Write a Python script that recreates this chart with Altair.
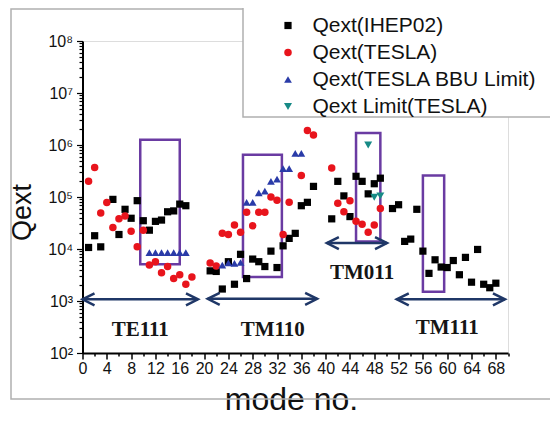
import altair as alt
import pandas as pd

# ---------------- data ----------------
series_names = ["Qext(IHEP02)", "Qext(TESLA)", "Qext(TESLA BBU Limit)", "Qext Limit(TESLA)"]

ihep_mode = [1, 2, 3, 5, 6, 7, 8, 9, 10, 11, 12, 13, 14, 15, 16, 17,
             21, 22, 23, 24, 25, 26, 27, 28, 29, 30, 31, 32, 33, 34, 35, 36, 37, 38,
             41, 42, 43, 44, 45, 46, 47, 48, 49,
             51, 52, 53, 54, 55, 56, 57, 58, 59, 60, 61, 62, 63, 64, 65, 66, 67, 68]
ihep_q = [1.07e4, 1.8e4, 1.1e4, 9.0e4, 1.9e4, 5.8e4, 3.9e4, 8.5e4, 3.5e4, 2.3e4, 3.4e4, 3.6e4, 5.2e4, 5.4e4, 7.3e4, 6.8e4,
          3.8e3, 3.7e3, 1.7e3, 5.7e3, 2.1e3, 7.9e3, 2.7e3, 6.4e3, 5.7e3, 4.6e3, 9.1e3, 4.4e3, 1.15e4, 1.6e4, 2.0e4, 6.8e4, 7.9e4, 1.6e5,
          3.8e4, 2.0e5, 1.05e5, 4.2e4, 2.5e5, 2.0e5, 1.15e5, 1.8e5, 2.3e5,
          6.0e4, 7.1e4, 1.4e4, 1.55e4, 5.8e4, 9.1e3, 3.4e3, 6.2e3, 4.5e3, 4.4e3, 6.0e3, 3.2e3, 6.9e3, 2.3e3, 9.8e3, 2.1e3, 1.8e3, 2.2e3]

tesla_mode = [1, 2, 3, 4, 5, 6, 7, 8, 9, 10, 11, 12, 13, 14, 15, 16, 17, 18,
              21, 22, 23, 24, 25, 26, 27, 28, 29, 30, 31, 32, 33, 34, 36, 37, 38,
              41, 42, 43, 44, 45, 46, 47, 48, 49]
tesla_q = [2.0e5, 3.7e5, 4.9e4, 7.8e4, 2.6e4, 3.8e4, 4.3e4, 2.2e4, 1.1e4, 2.3e4, 4.9e3, 5.7e3, 3.5e3, 4.6e3, 2.7e3, 3.2e3, 2.1e3, 2.9e3,
           5.4e3, 4.7e3, 2.0e4, 1.9e4, 2.9e4, 2.1e4, 5.1e4, 2.8e4, 5.1e4, 5.1e4, 1.0e5, 8.7e4, 1.9e4, 7.9e4, 2.6e5, 1.9e6, 1.55e6,
           3.6e5, 7.6e4, 5.2e4, 8.5e4, 3.4e4, 3.0e4, 2.1e4, 2.9e4, 6.0e4]

bbu_mode = [11, 12, 13, 14, 15, 16, 17,
            23, 24, 25, 26, 27, 28, 29, 30, 31, 32, 33, 34, 35, 36]
bbu_q = [8.5e3, 8.5e3, 8.5e3, 8.5e3, 8.5e3, 8.5e3, 8.5e3,
         4.9e3, 5.4e3, 5.3e3, 5.5e3, 7.9e4, 7.9e4, 1.2e5, 1.3e5, 2.0e5, 2.2e5, 3.5e5, 3.5e5, 6.9e5, 6.9e5]

limit_mode = [47, 48, 49]
limit_q = [1.0e6, 9.9e4, 1.05e5]

# purple boxes
box_x1 = [9.5, 26.4, 45.0, 56.0]
box_x2 = [16.0, 32.8, 49.0, 59.5]
box_ylo = [5.1e3, 2.9e3, 1.4e4, 1.5e3]
box_yhi = [1.26e6, 6.5e5, 1.7e6, 2.6e5]

# double arrows
arrow_x1 = [0.0, 20.6, 40.2, 51.7]
arrow_x2 = [19.0, 38.6, 50.1, 69.5]
arrow_y = [1.08e3, 1.1e3, 1.3e4, 1.08e3]

# mode labels
label_text = ["TE111", "TM110", "TM011", "TM111"]
label_x = [9.5, 31.3, 46.0, 60.0]
label_y = [277, 277, 3.5e3, 300]

x_tick_values = list(range(0, 71, 2))
y_tick_values = [m * 10 ** e for e in range(2, 8) for m in range(1, 10)] + [10 ** 8]

# ---------------- tables ----------------
rows = []
for name, xs_, qs_ in zip(series_names, [ihep_mode, tesla_mode, bbu_mode, limit_mode],
                          [ihep_q, tesla_q, bbu_q, limit_q]):
    for xv, qv in zip(xs_, qs_):
        rows.append({"mode": xv, "Qext": qv, "series": name})
df = pd.DataFrame(rows)

boxes = pd.DataFrame({"x1": box_x1, "x2": box_x2, "y1": box_ylo, "y2": box_yhi})
arrows = pd.DataFrame({"x1": arrow_x1, "x2": arrow_x2, "y": arrow_y})
labels = pd.DataFrame({"t": label_text, "x": label_x, "y": label_y})
one = pd.DataFrame({"a": [0]})

xs = alt.Scale(domain=[0, 70], nice=False, zero=False)
ys = alt.Scale(type="log", domain=[1e2, 1e8], nice=False)

NAVY = "#1f3767"
PURPLE = "#6a3ba2"

is_decade = "abs(log(datum.value)/LN10 - round(log(datum.value)/LN10)) < 0.001"
sup = "['\u2070','\u00b9','\u00b2','\u00b3','\u2074','\u2075','\u2076','\u2077','\u2078','\u2079']"

x_axis = alt.Axis(
    values=x_tick_values, title="mode no.", grid=False,
    labelExpr="(datum.value % 4 == 0 && datum.value <= 68) ? datum.label : ''",
    tickSize={"condition": {"test": "datum.value % 4 == 0", "value": 6}, "value": 3},
    labelFont="Liberation Sans", labelFontSize=16, labelColor="#111", labelPadding=1,
    labelFlush=False, labelOverlap=False,
    domainColor="#000", domainWidth=2, tickColor="#000", tickWidth=1.5,
    titleFont="Liberation Sans", titleFontSize=32, titleFontWeight="normal", titleColor="#111",
    titleX=208.5, titleY=56, titleAlign="center", titleBaseline="alphabetic",
)
y_axis = alt.Axis(
    values=y_tick_values, title="Qext", grid=False,
    labelExpr=f"{is_decade} ? '10' + {sup}[round(log(datum.value)/LN10)] : ''",
    tickSize={"condition": {"test": is_decade, "value": 6}, "value": 3.5},
    labelFont="Liberation Sans", labelFontSize=16, labelColor="#111", labelPadding=4,
    labelFlush=False, labelOverlap=False,
    domainColor="#000", domainWidth=2, tickColor="#000", tickWidth=1.2,
    titleFont="Liberation Sans", titleFontSize=27, titleFontWeight="normal", titleColor="#111",
    titleX=-60, titleY=171, titleAngle=270, titleAlign="center", titleBaseline="middle",
)


def X(field):
    return alt.X(field, scale=xs, axis=x_axis)


def Y(field):
    return alt.Y(field, scale=ys, axis=y_axis)


frame = alt.Chart(one).mark_rect(fill="white", fillOpacity=0, stroke="#b0b0b0", strokeWidth=1.5,
                                 strokeOpacity=1).encode(
    x=alt.value(-71.5), x2=alt.value(472), y=alt.value(-32), y2=alt.value(358))

legend_box = alt.Chart(one).mark_rect(fill="white", stroke="#b0b0b0", strokeWidth=1.5).encode(
    x=alt.value(160.5), x2=alt.value(490), y=alt.value(-34), y2=alt.value(76))

box_layer = alt.Chart(boxes).mark_rect(filled=False, stroke=PURPLE, strokeWidth=2.5).encode(
    x=X("x1:Q"), x2="x2:Q", y=Y("y1:Q"), y2="y2:Q")

arrow_line = alt.Chart(arrows).mark_rule(color=NAVY, strokeWidth=2.5).encode(
    x=X("x1:Q"), x2="x2:Q", y=Y("y:Q"))

head_l = alt.Chart(arrows).mark_point(shape="M2,-1L0,0L2,1", filled=False, stroke=NAVY,
                                      strokeWidth=2.5, size=144, opacity=1).encode(
    x=X("x1:Q"), y=Y("y:Q"))
head_r = alt.Chart(arrows).mark_point(shape="M-2,-1L0,0L-2,1", filled=False, stroke=NAVY,
                                      strokeWidth=2.5, size=144, opacity=1).encode(
    x=X("x2:Q"), y=Y("y:Q"))

text_layer = alt.Chart(labels).mark_text(font="Liberation Serif", fontWeight="bold", fontSize=21,
                                         color="#151515", baseline="middle", align="center").encode(
    x=X("x:Q"), y=Y("y:Q"), text="t:N")

leg = alt.Legend(title=None, orient="none", legendX=195, legendY=-26, padding=0,
                 labelFont="Liberation Sans", labelFontSize=21, labelColor="#111",
                 labelOffset=14, rowPadding=5, symbolStrokeWidth=0, labelLimit=400)

points = alt.Chart(df).mark_point(filled=True, opacity=1).encode(
    x=X("mode:Q"),
    y=Y("Qext:Q"),
    color=alt.Color("series:N", scale=alt.Scale(domain=series_names,
                    range=["#000000", "#e8141c", "#2a3ba8", "#178a86"]), legend=leg),
    shape=alt.Shape("series:N", scale=alt.Scale(domain=series_names,
                    range=["square", "circle", "triangle-up", "triangle-down"]), legend=leg),
    size=alt.Size("series:N", scale=alt.Scale(domain=series_names, range=[52, 64, 90, 90]), legend=leg),
)

chart = alt.layer(frame, legend_box, box_layer, arrow_line, head_l, head_r, text_layer, points).properties(
    width=425.5, height=312,
    padding={"left": 74.5, "top": 33, "right": 42, "bottom": 63},
    autosize=alt.AutoSizeParams(type="none"),
).configure_view(strokeWidth=0).configure(background="white")

chart.save("out.html", embed_options={"renderer": "svg", "actions": False})
